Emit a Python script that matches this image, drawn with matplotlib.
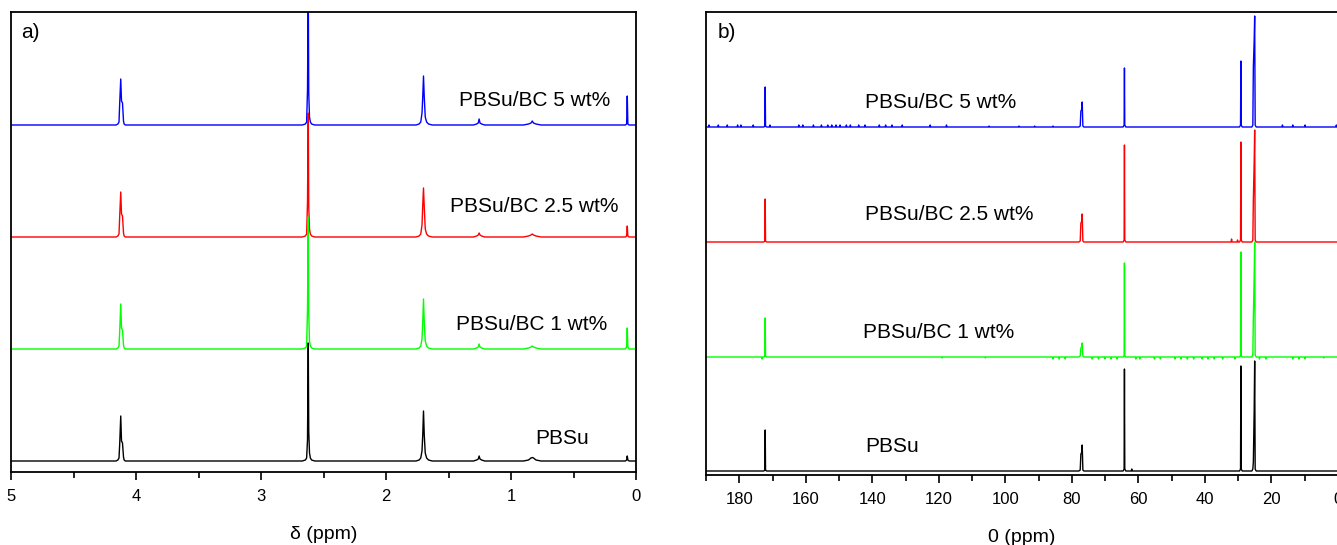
import numpy as np
import matplotlib
matplotlib.use("Agg")
import matplotlib.pyplot as plt
from matplotlib.ticker import MultipleLocator

plt.rcParams['font.family'] = ['Liberation Sans', 'DejaVu Sans']

# ---- a) 1H NMR, heights (same ppm grid for all traces)
H_PPM = [5.0, 4.16, 4.145, 4.136, 4.13, 4.122, 4.116, 4.108, 4.10, 4.095, 4.085, 4.07,
         2.67, 2.645, 2.635, 2.628, 2.622, 2.618, 2.612, 2.605, 2.595, 2.57,
         1.76, 1.735, 1.722, 1.712, 1.706, 1.70, 1.694, 1.686, 1.675, 1.66, 1.63,
         1.30, 1.275, 1.262, 1.255, 1.248, 1.235, 1.21,
         0.90, 0.86, 0.84, 0.83, 0.82, 0.80, 0.76,
         0.085, 0.075, 0.07, 0.065, 0.055, 0.0]
H_PBSU = [0, 0, 1, 3, 18, 45, 20, 18, 4, 1, 0, 0,
          0, 1, 3, 21, 118, 30, 8, 3, 1, 0,
          0, 1, 3, 10, 26, 50, 26, 8, 3, 1, 0,
          0, 1, 2, 5, 2, 1, 0,
          0, 1, 3, 3.5, 3, 1, 0,
          0, 1, 5, 1, 0, 0]
H_BC1 = [0, 0, 1, 3, 19, 45, 21, 19, 4, 1, 0, 0,
         0, 1, 3, 40, 132, 35, 8, 3, 1, 0,
         0, 1, 3, 10, 27, 50, 27, 8, 3, 1, 0,
         0, 1, 2, 5, 2, 1, 0,
         0, 1, 2, 3, 2, 1, 0,
         0, 2, 21, 2, 0, 0]
H_BC25 = [0, 0, 1, 3, 22, 45, 23, 21, 4, 1, 0, 0,
          0, 1, 3, 35, 124, 30, 8, 3, 1, 0,
          0, 1, 3, 12, 32, 49, 30, 8, 3, 1, 0,
          0, 1, 2, 4, 2, 1, 0,
          0, 1, 2, 3, 2, 1, 0,
          0, 1, 11, 1, 0, 0]
H_BC5 = [0, 0, 1, 3, 23, 46, 24, 22, 4, 1, 0, 0,
         0, 1, 3, 35, 140, 32, 8, 3, 1, 0,
         0, 1, 3, 12, 28, 49, 28, 8, 3, 1, 0,
         0, 1, 2, 6, 2, 1, 0,
         0, 1, 2, 4, 2, 1, 0,
         0, 1, 29, 1, 0, 0]

# ---- b) 13C NMR main peaks
C_PPM = [190.0,
         172.6, 172.3, 172.2, 172.1, 171.8,
         77.9, 77.5, 77.3, 77.1, 76.9, 76.7, 76.4,
         64.6, 64.3, 64.2, 64.1, 63.8,
         29.6, 29.3, 29.2, 29.1, 28.8,
         25.9, 25.6, 25.45, 25.2, 25.05, 24.9, 24.6,
         0.0]
C_PBSU = [0, 0, 1, 41, 1, 0, 0, 1, 17, 18, 26, 1, 0, 0, 2, 102, 2, 0,
          0, 2, 105, 2, 0, 0, 2, 9, 60, 110, 2, 0, 0]
C_BC1 = [0, 0, 1, 39, 1, 0, 0, 1, 9, 10, 14, 1, 0, 0, 1, 94, 1, 0,
         0, 1, 105, 1, 0, 0, 2, 40, 80, 115, 2, 0, 0]
C_BC25 = [0, 0, 1, 43, 1, 0, 0, 1, 19, 20, 28, 1, 0, 0, 2, 97, 2, 0,
          0, 2, 100, 2, 0, 0, 2, 42, 80, 112, 2, 0, 0]
C_BC5 = [0, 0, 1, 40, 1, 0, 0, 1, 16, 17, 25, 1, 0, 0, 2, 59, 2, 0,
         0, 2, 66, 2, 0, 0, 2, 60, 87, 111, 2, 0, 0]

# small noise spikes on the baselines (ppm, height)
N_PBSU_X = [62.0]
N_PBSU_Y = [2]
N_BC1_X = [173.2, 119.0, 106.0, 85.7, 83.8, 82.0, 73.9, 72.0, 70.1, 68.2, 66.4,
           60.8, 59.6, 55.2, 53.4, 49.0, 47.2, 45.3, 43.4, 40.9, 39.1, 37.2, 34.7,
           31.0, 23.6, 21.7, 13.6, 11.7, 9.9, 4.3]
N_BC1_Y = [-2, -1, -1, -2, -2, -2, -2, -2, -2, -2, -2, -2, -2, -2, -2, -2, -2,
           -2, -2, -2, -2, -2, -2, -2, -2, -2, -2, -2, -2, -1]
N_BC25_X = [32.0, 30.2]
N_BC25_Y = [3, 2]
N_BC5_X = [189.1, 186.3, 183.6, 180.5, 179.5, 175.8, 170.8, 162.1, 160.9, 157.7,
           155.3, 153.4, 152.2, 150.9, 149.7, 147.8, 146.6, 144.1, 142.2, 137.9,
           136.0, 134.1, 131.0, 122.6, 117.7, 104.9, 95.9, 91.2, 85.7, 16.7, 13.6,
           9.9, 0.5]
N_BC5_Y = [2, 2, 2, 2, 2, 2, 2, 2, 2, 2, 2, 2, 2, 2, 2, 2, 2, 2, 2, 2,
           2, 2, 2, 2, 2, 1, 1, 1, 1, 2, 2, 2, 2]

LABELS = ["PBSu", "PBSu/BC 1 wt%", "PBSu/BC 2.5 wt%", "PBSu/BC 5 wt%"]
COLORS = ["black", "#00ff00", "#ff0000", "#0000ff"]


def with_noise(x, y, nx, ny):
    x = list(x)
    y = list(y)
    for p, h in zip(nx, ny):
        x += [p + 0.15, p, p - 0.15]
        y += [0, h, 0]
    order = np.argsort(x)[::-1]
    return np.array(x)[order], np.array(y, dtype=float)[order]


fig = plt.figure(figsize=(13.37, 5.45), dpi=100)
ax1 = fig.add_axes([11 / 1337, 73 / 545, 625 / 1337, 460 / 545])
ax2 = fig.add_axes([706 / 1337, 70 / 545, 632 / 1337, 463 / 545])

# a) offsets in px from the axis bottom
h_off = [11, 123, 235, 347]
h_series = [H_PBSU, H_BC1, H_BC25, H_BC5]
for i in [3, 2, 1, 0]:
    ax1.plot(H_PPM, np.array(h_series[i]) + h_off[i], color=COLORS[i], lw=1.0)

ax1.text(0.81, 372, LABELS[3], fontsize=15, ha='center', va='center')
ax1.text(0.81, 265, LABELS[2], fontsize=15, ha='center', va='center')
ax1.text(0.835, 147, LABELS[1], fontsize=15, ha='center', va='center')
ax1.text(0.594, 34, LABELS[0], fontsize=15, ha='center', va='center')
ax1.text(0.017, 0.955, "a)", transform=ax1.transAxes, fontsize=15, ha='left', va='center')

ax1.set_xlim(5, 0)
ax1.set_ylim(0, 460)
ax1.xaxis.set_major_locator(MultipleLocator(1))
ax1.xaxis.set_minor_locator(MultipleLocator(0.5))
ax1.set_xlabel("δ (ppm)", fontsize=14, labelpad=16)

# b)
c_off = [4, 118, 233, 348]
c_series = [(C_PBSU, N_PBSU_X, N_PBSU_Y), (C_BC1, N_BC1_X, N_BC1_Y),
            (C_BC25, N_BC25_X, N_BC25_Y), (C_BC5, N_BC5_X, N_BC5_Y)]
for i in [3, 2, 1, 0]:
    y, nx, ny = c_series[i]
    xx, yy = with_noise(C_PPM, y, nx, ny)
    ax2.plot(xx, yy + c_off[i], color=COLORS[i], lw=1.0)

ax2.text(142.2, 372, LABELS[3], fontsize=15, ha='left', va='center')
ax2.text(142.2, 260, LABELS[2], fontsize=15, ha='left', va='center')
ax2.text(142.8, 143, LABELS[1], fontsize=15, ha='left', va='center')
ax2.text(142.2, 29, LABELS[0], fontsize=15, ha='left', va='center')
ax2.text(0.019, 0.955, "b)", transform=ax2.transAxes, fontsize=15, ha='left', va='center')

ax2.set_xlim(190, 0)
ax2.set_ylim(0, 463)
ax2.xaxis.set_major_locator(MultipleLocator(20))
ax2.xaxis.set_minor_locator(MultipleLocator(10))
ax2.set_xlabel("0 (ppm)", fontsize=14, labelpad=16)

for ax in (ax1, ax2):
    ax.set_yticks([])
    for s in ax.spines.values():
        s.set_linewidth(1.3)
    ax.tick_params(axis='x', which='major', direction='out', length=6, width=1.2,
                   labelsize=12, pad=6)
    ax.tick_params(axis='x', which='minor', direction='out', length=4, width=1.2)

fig.savefig("out.png", dpi=100)
